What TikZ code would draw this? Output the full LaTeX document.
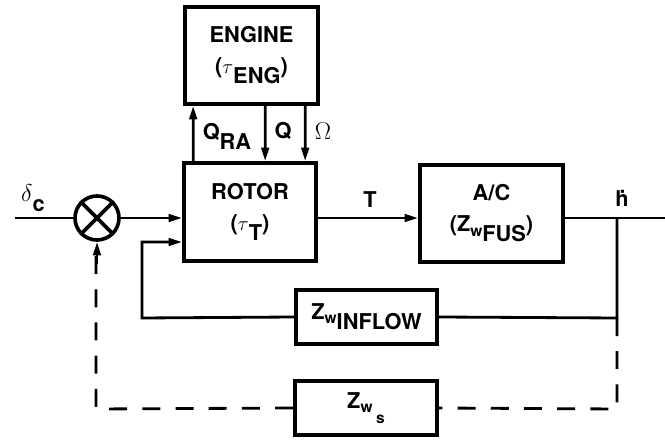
\documentclass[tikz,border=0pt]{standalone}
\usepackage{fontspec}
\setmainfont{TeX Gyre Heros}
\usetikzlibrary{arrows.meta,positioning}

% lowered parts of the block labels
\newcommand{\lowsmall}[1]{\raisebox{-0.35ex}{\fontsize{11}{11}\selectfont #1}}
\newcommand{\lowfull}[1]{\raisebox{-0.85ex}{#1}}

\begin{document}
\begin{tikzpicture}[
  x=0.025cm,y=-0.025cm,
  font=\fontsize{15.5}{22}\selectfont\bfseries,
  block/.style={draw=black, line width=2.6pt, align=center, inner sep=0pt},
  flow/.style={-{Triangle[length=3.4mm,width=1.9mm]}, line width=2pt},
  link/.style={line width=2pt},
  feed/.style={line width=2pt, dash pattern=on 4.5mm off 3.8mm},
  lab/.style={inner sep=0pt},
  greek/.style={inner sep=0pt, font=\fontsize{18}{18}\selectfont\bfseries}
]
\useasboundingbox (0,0) rectangle (665,444);

% Blocks.
\node[block, minimum width=3.325cm, minimum height=2.425cm]
  (engine) at (251.5,55.5) {ENGINE\\($\tau$\lowfull{ENG})};
\node[block, minimum width=3.3cm, minimum height=2.45cm]
  (rotor) at (250,212) {ROTOR\\($\tau$\lowfull{T})};
\node[block, minimum width=3.575cm, minimum height=2.425cm]
  (ac) at (491.5,213.5) {A/C\\(Z\lowsmall{w}\lowfull{FUS})};
\node[block, minimum width=3.525cm, minimum height=1.35cm]
  (inflow) at (366.5,317) {Z\lowsmall{w}\lowfull{INFLOW}};
\node[block, minimum width=3.55cm, minimum height=1.35cm]
  (zws) at (366,408) {Z\lowsmall{w}\,\raisebox{-1.3ex}{\fontsize{11}{11}\selectfont s}};

% Summing junction.
\node[draw, circle, line width=2.6pt, minimum size=1.1cm, inner sep=0pt]
  (sum) at (97,218) {};
\draw[line width=2.6pt] (sum.north west) -- (sum.south east);
\draw[line width=2.6pt] (sum.north east) -- (sum.south west);

% Free ends and corners.
\coordinate (in) at (15,218);
\coordinate (out) at (665,218);
\coordinate (tap) at (617,218);
\coordinate (tapmid) at (617,318);
\coordinate (tapbot) at (617,409);
\coordinate (loopbot) at (142,318);
\coordinate (looptop) at (142,242);
\coordinate (dashbot) at (96,409);

% Forward path.
\draw[link] (in) -- (sum.west);
\draw[flow] (sum.east) -- (sum.east -| rotor.west);
\draw[flow] (rotor.east |- tap) -- (ac.west |- tap);
\draw[link] (ac.east |- tap) -- (out);

% Rotor and engine exchange.
\draw[flow] ([xshift=0.275cm]rotor.north west) -- ([xshift=0.25cm]engine.south west);
\draw[flow] ([xshift=2.05cm]engine.south west) -- ([xshift=2.075cm]rotor.north west);
\draw[flow] ([xshift=3.05cm]engine.south west) -- ([xshift=3.075cm]rotor.north west);

% Inflow loop.
\draw[link] (tap) -- (tapmid) -- (inflow.east);
\draw[flow] (inflow.west) -- (loopbot) -- (looptop) -- (looptop -| rotor.west);

% Dashed outer loop.
\draw[feed] (tapmid) -- (tapbot) -- (zws.east);
\draw[feed] (zws.west) -- (dashbot) -- (dashbot |- sum.south);
\draw[flow] ([yshift=-0.55cm]sum.south) -- (sum.south);

% Signal labels.
\node[greek] (dc) at (33,198) {$\delta$\raisebox{-0.7ex}{\fontsize{15.5}{16}\selectfont c}};
\node[lab] (tlab) at (370,200) {T};
\node[lab] (hlab) at (622,198) {\.{h}};
\node[lab] (qra) at (227,136) {Q\lowfull{RA}};
\node[lab] (qlab) at (283,131) {Q};
\node[greek] (omega) at (323,131) {$\Omega$};
\end{tikzpicture}
\end{document}
